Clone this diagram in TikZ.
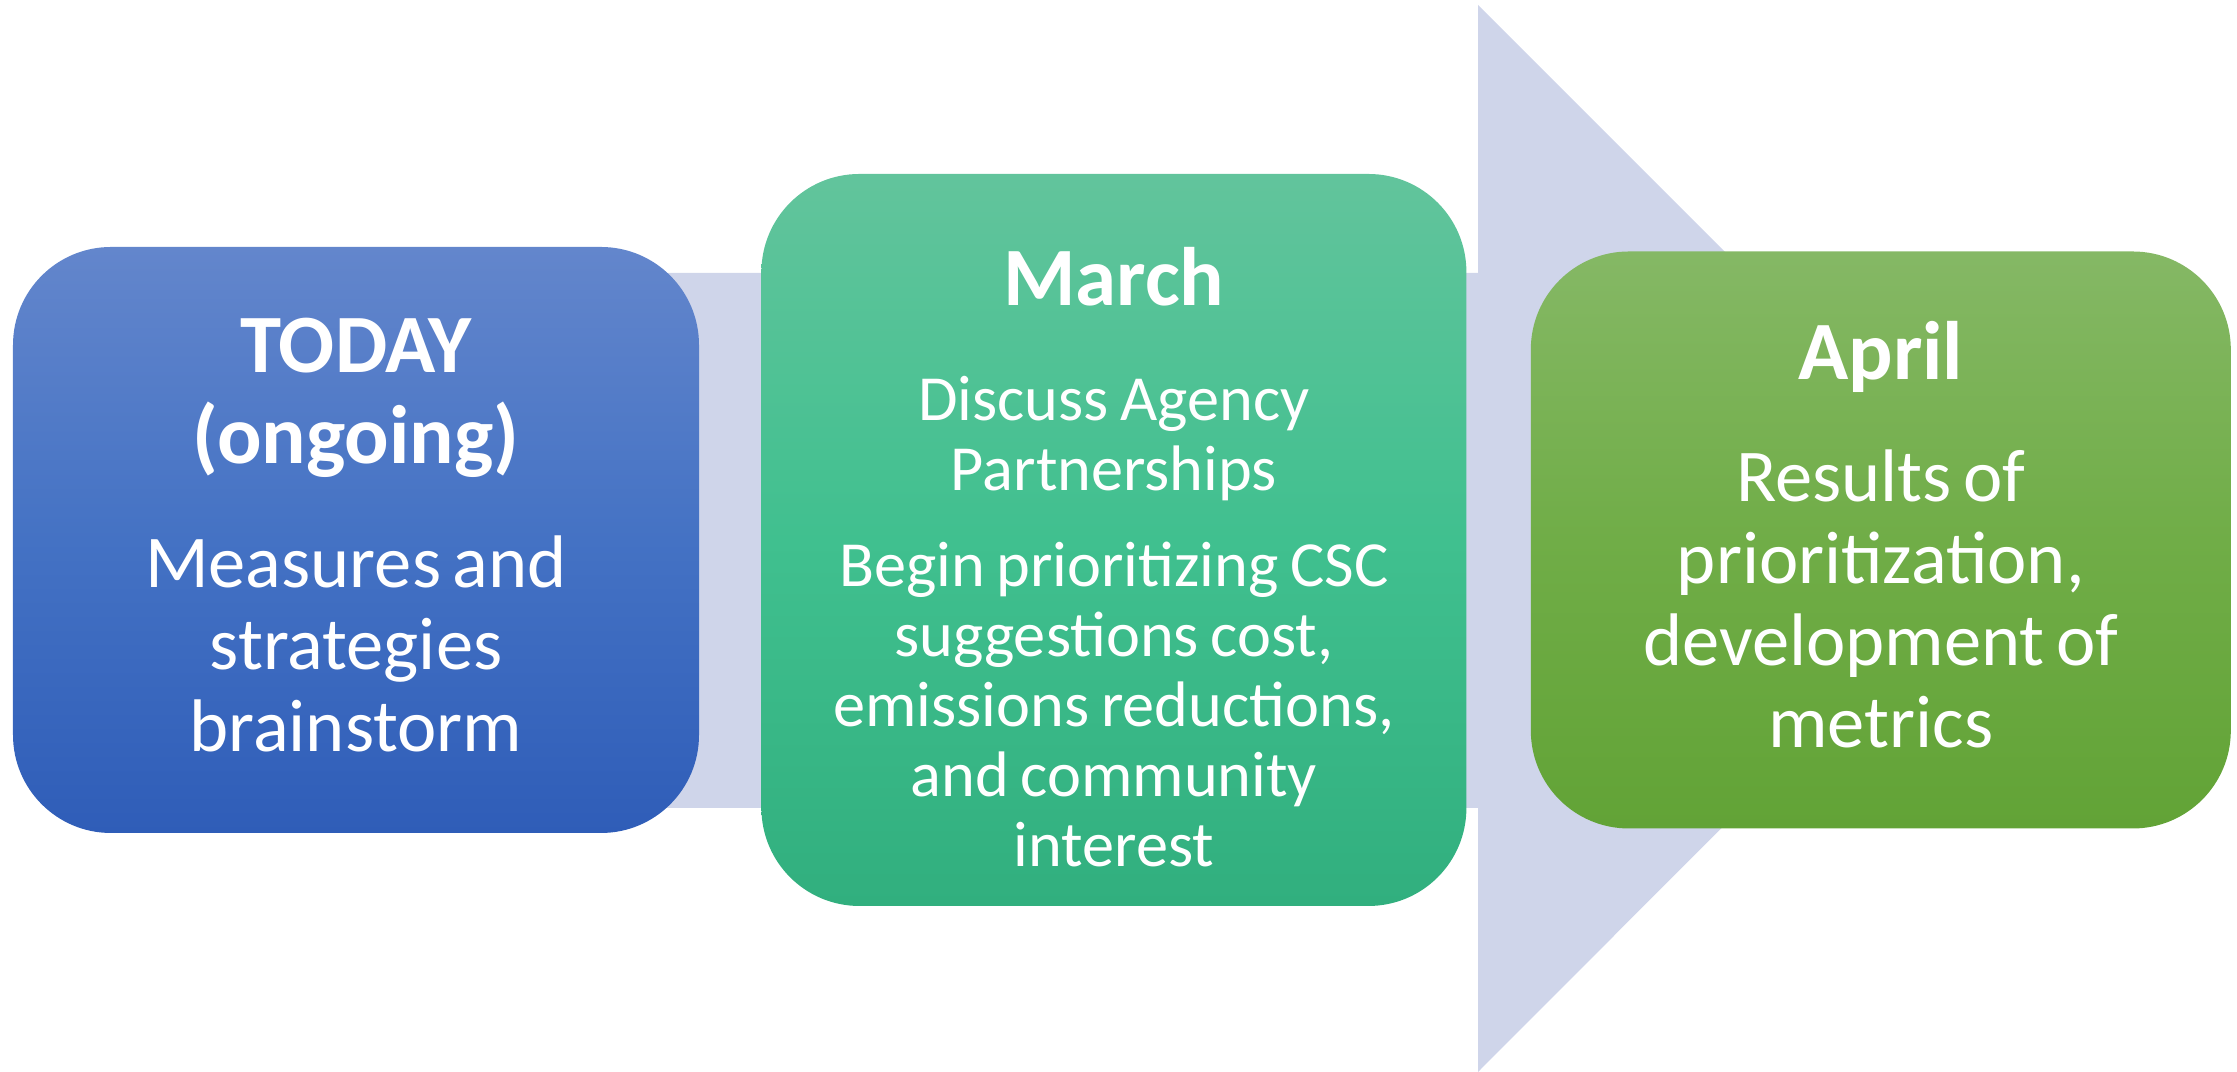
\documentclass[tikz,border=0pt]{standalone}
\usepackage{fontspec}
\setmainfont{Carlito}
\usetikzlibrary{positioning}
\definecolor{shaftgray}{RGB}{207,213,234}
\definecolor{blueT}{RGB}{99,134,204}
\definecolor{blueM}{RGB}{68,114,196}
\definecolor{blueB}{RGB}{47,93,184}
\definecolor{greenT}{RGB}{98,196,156}
\definecolor{greenM}{RGB}{64,192,143}
\definecolor{greenB}{RGB}{49,175,126}
\definecolor{leafT}{RGB}{133,184,101}
\definecolor{leafM}{RGB}{112,173,71}
\definecolor{leafB}{RGB}{98,163,54}
\newcommand{\titlefont}{\fontsize{23.6}{25.9}\selectfont\bfseries}
\newcommand{\bodyfont}{\fontsize{21.2}{23.3}\selectfont}
\newcommand{\smallbody}{\fontsize{18.3}{19.9}\selectfont}
\tikzset{stage/.style={rounded corners=0.98cm, text=white, align=center, inner sep=0pt, text width=6.7cm}}

\begin{document}
\begin{tikzpicture}
        \useasboundingbox (0,0) rectangle (22.37,10.72);
        % big arrow behind the stages
        \fill[shaftgray] (1.0,2.64) -- (14.78,2.64) -- (14.78,0) -- (20.11,5.34) -- (14.78,10.67) -- (14.78,7.99) -- (1.0,7.99) -- cycle;
        \node[stage, minimum width=6.86cm, minimum height=5.86cm, top color=blueT, bottom color=blueB, middle color=blueM] (today) at (3.56,5.32)
            {{\titlefont TODAY\\(ongoing)\par}\vspace{12pt}{\bodyfont Measures and\\strategies\\brainstorm\par}\vspace*{0.1cm}};
        \node[stage, minimum width=7.05cm, minimum height=7.32cm, top color=greenT, bottom color=greenB, middle color=greenM, right=0.61cm of today] (march)
            {{\titlefont March\par}\vspace{12.8pt}{\smallbody Discuss Agency\\Partnerships\par}\vspace{7.4pt}{\smallbody Begin prioritizing CSC\\suggestions cost,\\emissions reductions,\\and community\\interest\par}\vspace*{-0.34cm}};
        \node[stage, minimum width=7.0cm, minimum height=5.77cm, top color=leafT, bottom color=leafB, middle color=leafM, right=0.63cm of march] (april)
            {{\titlefont April\par}\vspace{11.4pt}{\bodyfont Results of\\prioritization,\\development of\\metrics\par}\vspace*{0.1cm}};
    \end{tikzpicture}
\end{document}
